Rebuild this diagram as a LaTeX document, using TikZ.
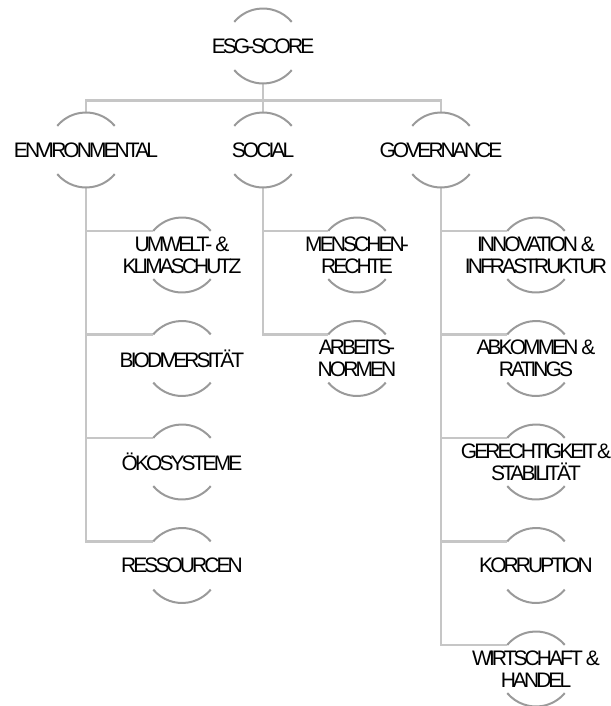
\documentclass[tikz,border=0pt]{standalone}
\usepackage{fontspec}
\newfontfamily\treefont[LetterSpace=-14]{Liberation Sans}
\usetikzlibrary{calc}
\usetikzlibrary{positioning}
\definecolor{arcgray}{HTML}{9A9A9A}
\definecolor{linegray}{HTML}{C6C6C6}
\tikzstyle{ringnode} = [circle, minimum size=75pt, inner sep=0pt, outer sep=0pt]
\tikzstyle{ringtext} = [font=\treefont\fontsize{21}{22}\selectfont, align=center, inner sep=0pt, text=black]
\tikzstyle{ringarc} = [draw=arcgray, line width=2pt]
\tikzstyle{branch} = [draw=linegray, line width=2.6pt]

\begin{document}
\begin{tikzpicture}[x=1pt, y=1pt]
    \useasboundingbox (0,0) rectangle (610,-706);
    \node[ringnode, label={[ringtext]center:ESG-SCORE}] (esg_root) at (263,-46) {};
    % pillars
    \node[ringnode, label={[ringtext]center:ENVIRONMENTAL}] (env_pillar) at ($(esg_root)+(-177,-104)$) {};
    \node[ringnode, label={[ringtext]center:SOCIAL}] (soc_pillar) at ($(esg_root)+(0,-104)$) {};
    \node[ringnode, label={[ringtext]center:GOVERNANCE}] (gov_pillar) at ($(esg_root)+(178,-104)$) {};
    % environmental
    \node[ringnode, label={[ringtext]center:{UMWELT- \&\\KLIMASCHUTZ}}] (env_climate) at ($(env_pillar)+(96,-105)$) {};
    \node[ringnode, label={[ringtext]center:BIODIVERSITÄT}] (env_bio) at ($(env_climate)+(0,-103.5)$) {};
    \node[ringnode, label={[ringtext]center:ÖKOSYSTEME}] (env_eco) at ($(env_bio)+(0,-103.5)$) {};
    \node[ringnode, label={[ringtext]center:RESSOURCEN}] (env_res) at ($(env_eco)+(0,-103.5)$) {};
    % social
    \node[ringnode, label={[ringtext]center:{MENSCHEN-\\RECHTE}}] (soc_rights) at ($(soc_pillar)+(94,-105)$) {};
    \node[ringnode, label={[ringtext]center:{ARBEITS-\\NORMEN}}] (soc_labour) at ($(soc_rights)+(0,-103.5)$) {};
    % governance
    \node[ringnode, label={[ringtext]center:{INNOVATION \&\\INFRASTRUKTUR}}] (gov_innov) at ($(gov_pillar)+(95,-105)$) {};
    \node[ringnode, label={[ringtext]center:{ABKOMMEN \&\\RATINGS}}] (gov_ratings) at ($(gov_innov)+(0,-103.5)$) {};
    \node[ringnode, label={[ringtext]center:{GERECHTIGKEIT\kern-3pt{} \&\\STABILITÄT}}] (gov_justice) at ($(gov_ratings)+(0,-103.5)$) {};
    \node[ringnode, label={[ringtext]center:KORRUPTION}] (gov_corrupt) at ($(gov_justice)+(0,-103.5)$) {};
    \node[ringnode, label={[ringtext]center:{WIRTSCHAFT \&\\HANDEL}}] (gov_trade) at ($(gov_corrupt)+(0,-103.5)$) {};
    % connectors
    \coordinate (esg_bus) at ($(esg_root.south)+(0,-17)$);
    \draw[branch] (esg_root.south) -- (esg_bus) -| (env_pillar.north);
    \draw[branch] (esg_bus) -| (gov_pillar.north);
    \draw[branch] (esg_bus) -- (soc_pillar.north);
    \draw[branch] (env_pillar.south) |- (env_climate.140);
    \draw[branch] (env_pillar.south) |- (env_bio.140);
    \draw[branch] (env_pillar.south) |- (env_eco.140);
    \draw[branch] (env_pillar.south) |- (env_res.140);
    \draw[branch] (soc_pillar.south) |- (soc_rights.140);
    \draw[branch] (soc_pillar.south) |- (soc_labour.140);
    \draw[branch] (gov_pillar.south) |- (gov_innov.140);
    \draw[branch] (gov_pillar.south) |- (gov_ratings.140);
    \draw[branch] (gov_pillar.south) |- (gov_justice.140);
    \draw[branch] (gov_pillar.south) |- (gov_corrupt.140);
    \draw[branch] (gov_pillar.south) |- (gov_trade.140);
    % ring arcs
    \foreach \n in {esg_root, env_pillar, soc_pillar, gov_pillar, env_climate, env_bio, env_eco, env_res,
                    soc_rights, soc_labour, gov_innov, gov_ratings, gov_justice, gov_corrupt, gov_trade} {
        \draw[ringarc] (\n.40) arc[start angle=40, end angle=140, radius=37.5pt];
        \draw[ringarc] (\n.220) arc[start angle=220, end angle=320, radius=37.5pt];
    }
\end{tikzpicture}
\end{document}
